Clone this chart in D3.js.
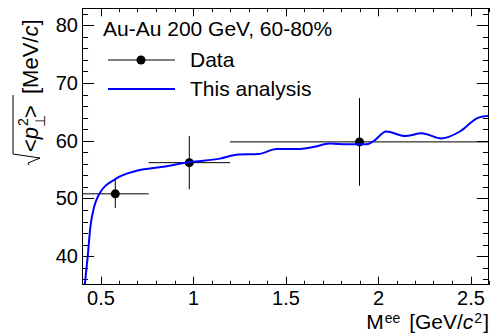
<!DOCTYPE html>
<html>
<head>
<meta charset="utf-8">
<script src="https://cdn.jsdelivr.net/npm/d3@7"></script>
<style>
  html, body { margin: 0; padding: 0; background: #fff; }
  svg { display: block; font-family: "Liberation Sans", Arial, sans-serif; }
</style>
</head>
<body>
<svg id="chart" width="492" height="333"></svg>
<script>
// Measured mean transverse momentum per mass bin
const dataMass = [0.58, 0.98, 1.90];
const dataValue = [50.8, 56.2, 59.8];
const dataErr = [2.45, 4.6, 7.6];
const binLow = [0.40, 0.76, 1.20];
const binHigh = [0.76, 1.20, 2.60];

// Model curve
const curveMass = [0.415, 0.431, 0.445, 0.466, 0.490, 0.582, 0.695, 0.839, 0.984, 1.146,
  1.245, 1.353, 1.452, 1.560, 1.650, 1.740, 1.830, 1.940, 1.975, 2.044,
  2.146, 2.236, 2.344, 2.443, 2.542, 2.600];
const curveValue = [35.0, 40.0, 45.0, 48.6, 50.6, 53.4, 54.8, 55.5, 56.3, 56.9,
  57.6, 57.7, 58.55, 58.55, 58.9, 59.5, 59.4, 59.4, 59.9, 61.6,
  60.8, 61.3, 60.4, 61.6, 64.0, 64.35];

const xTicks = [0.5, 1, 1.5, 2, 2.5];
const yTicks = [40, 50, 60, 70, 80];

const W = 492, H = 333;
const m = { left: 82, right: 3, top: 8, bottom: 48 };
const x0 = m.left, x1 = W - m.right, y0 = m.top, y1 = H - m.bottom;

const svg = d3.select("#chart");
const x = d3.scaleLinear().domain([0.4, 2.6]).range([x0, x1]);
const y = d3.scaleLinear().domain([35, 83]).range([y1, y0]);

svg.append("clipPath").attr("id", "frameclip")
  .append("rect").attr("x", x0).attr("y", y0).attr("width", x1 - x0).attr("height", y1 - y0);

// Ticks pointing inward on all four sides
const xMinor = d3.range(0.4, 2.6001, 0.1).map(v => +v.toFixed(2));
const yMinor = d3.range(36, 83.001, 2);
const tickG = svg.append("g").attr("stroke", "#000").attr("stroke-width", 1);
const majX = 8.3, minX = 4.2, majY = 12.2, minY = 6.1;
xMinor.forEach(v => {
  const isMaj = xTicks.some(t => Math.abs(t - v) < 1e-6);
  const len = isMaj ? majX : minX;
  const px = Math.round(x(v)) + 0.5;
  tickG.append("line").attr("x1", px).attr("x2", px).attr("y1", y1).attr("y2", y1 - len);
  tickG.append("line").attr("x1", px).attr("x2", px).attr("y1", y0).attr("y2", y0 + len);
});
yMinor.forEach(v => {
  const isMaj = yTicks.includes(v);
  const len = isMaj ? majY : minY;
  const py = Math.round(y(v)) + 0.5;
  tickG.append("line").attr("x1", x0).attr("x2", x0 + len).attr("y1", py).attr("y2", py);
  tickG.append("line").attr("x1", x1).attr("x2", x1 - len).attr("y1", py).attr("y2", py);
});

// Axis labels through d3 axes (tick marks drawn above)
const xAxis = d3.axisBottom(x).tickValues(xTicks).tickSize(0).tickPadding(6)
  .tickFormat(d => d3.format("")(d));
svg.append("g").attr("transform", `translate(0,${y1})`).call(xAxis)
  .call(g => g.select(".domain").remove())
  .selectAll("text").attr("font-size", 20).attr("font-family", "Liberation Sans, Arial, sans-serif").attr("fill", "#000");
const yAxis = d3.axisLeft(y).tickValues(yTicks).tickSize(0).tickPadding(4);
svg.append("g").attr("transform", `translate(${x0},0)`).call(yAxis)
  .call(g => g.select(".domain").remove())
  .selectAll("text").attr("font-size", 20).attr("font-family", "Liberation Sans, Arial, sans-serif").attr("fill", "#000");

// Data error bars
const dg = svg.append("g").attr("clip-path", "url(#frameclip)");
dataMass.forEach((mv, i) => {
  dg.append("line").attr("x1", x(binLow[i])).attr("x2", x(binHigh[i]))
    .attr("y1", y(dataValue[i])).attr("y2", y(dataValue[i]))
    .attr("stroke", "#000").attr("stroke-width", 1);
  dg.append("line").attr("x1", x(mv)).attr("x2", x(mv))
    .attr("y1", y(dataValue[i] - dataErr[i])).attr("y2", y(dataValue[i] + dataErr[i]))
    .attr("stroke", "#000").attr("stroke-width", 1);
});

// Model curve
const line = d3.line().x((d, i) => x(curveMass[i])).y((d, i) => y(curveValue[i]))
  .curve(d3.curveMonotoneX);
svg.append("path").datum(curveValue).attr("d", line)
  .attr("clip-path", "url(#frameclip)")
  .attr("fill", "none").attr("stroke", "#0000ff").attr("stroke-width", 2);

// Data markers
dg.selectAll("circle").data(dataMass).join("circle")
  .attr("cx", d => x(d)).attr("cy", (d, i) => y(dataValue[i])).attr("r", 4.5)
  .attr("fill", "#000");

// Frame
svg.append("rect").attr("x", x0 + 0.5).attr("y", y0 + 0.5)
  .attr("width", x1 - x0 - 1).attr("height", y1 - y0 - 1)
  .attr("fill", "none").attr("stroke", "#000").attr("stroke-width", 1);

// Legend
const lg = svg.append("g").attr("font-size", 21).attr("fill", "#000");
lg.append("text").attr("x", 103).attr("y", 36).text("Au-Au 200 GeV, 60-80%");
lg.append("line").attr("x1", 108).attr("x2", 175).attr("y1", 60).attr("y2", 60)
  .attr("stroke", "#000").attr("stroke-width", 1);
lg.append("circle").attr("cx", 141).attr("cy", 60).attr("r", 4.5).attr("fill", "#000");
lg.append("text").attr("x", 190).attr("y", 67).text("Data");
lg.append("line").attr("x1", 108).attr("x2", 175).attr("y1", 89).attr("y2", 89)
  .attr("stroke", "#0000ff").attr("stroke-width", 2);
lg.append("text").attr("x", 190).attr("y", 96).text("This analysis");

// X axis title
const xt = svg.append("text").attr("x", x1).attr("y", 328.5).attr("text-anchor", "end")
  .attr("font-size", 21).attr("fill", "#000");
xt.append("tspan").text("M");
xt.append("tspan").attr("dx", 1).attr("dy", -6).attr("font-size", 14).text("ee");
xt.append("tspan").attr("dx", 3).attr("dy", 6).text(" [GeV/");
xt.append("tspan").attr("font-style", "italic").text("c");
xt.append("tspan").attr("dx", 1).attr("dy", -6).attr("font-size", 14).text("2");
xt.append("tspan").attr("dx", 1).attr("dy", 6).text("]");

// Y axis title: radical over <p_perp^2>, then units
const yt = svg.append("g").attr("transform", "translate(38,165) rotate(-90)")
  .attr("fill", "#000");
yt.append("path").attr("d", "M0,-9 L2,-10 L7,2 L11,-25 L70,-25")
  .attr("fill", "none").attr("stroke", "#000").attr("stroke-width", 1);
const ytxt = yt.append("text").attr("x", 13).attr("y", 0).attr("font-size", 22);
ytxt.append("tspan").text("<");
ytxt.append("tspan").attr("font-style", "italic").text("p");
const pEnd = 13 + 12.8 + 12.2;
yt.append("text").attr("x", pEnd + 1).attr("y", -10).attr("font-size", 14).text("2");
yt.append("text").attr("x", pEnd + 0.5).attr("y", 7).attr("font-size", 14).text("\u22A5");
const yt2 = yt.append("text").attr("x", pEnd + 9).attr("y", 0).attr("font-size", 22);
yt2.append("tspan").text(">");
yt2.append("tspan").attr("dx", 5).text(" [MeV/");
yt2.append("tspan").attr("font-style", "italic").text("c");
yt2.append("tspan").text("]");
</script>
</body>
</html>
